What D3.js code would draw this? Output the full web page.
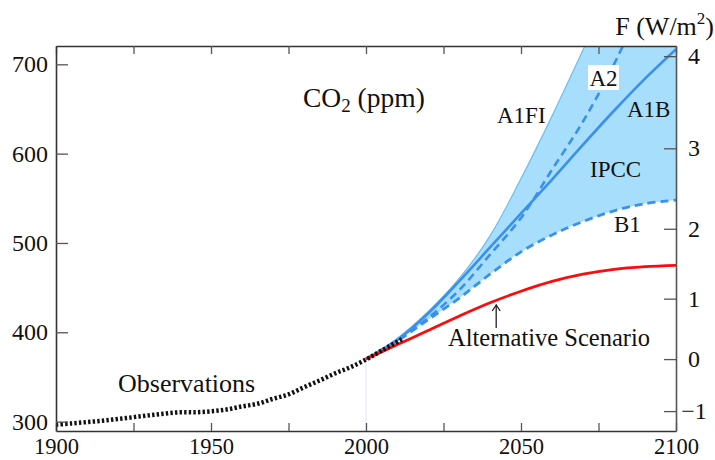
<!DOCTYPE html>
<html>
<head>
<meta charset="utf-8">
<script src="https://cdn.jsdelivr.net/npm/d3@7"></script>
<style>
  html, body { margin: 0; padding: 0; background: #fff; }
  svg { display: block; }
  text { font-family: "Liberation Serif", "Times New Roman", serif; fill: #111; }
</style>
</head>
<body>
<svg id="chart" width="715" height="460"></svg>
<script>
// ---------------- data ----------------
const scenarioYears = [2000, 2010, 2020, 2030, 2040, 2050, 2060, 2070, 2080, 2090, 2100];
const a1fi = [370, 393, 423, 460, 508, 572, 642, 716, 790, 865, 940];
const a2   = [370, 391, 416, 447, 487, 528, 582, 636, 700, 775, 850];
const a1b  = [370, 391, 421, 457, 495, 533, 571, 610, 648, 684, 717];
const b1   = [370, 390, 414, 438, 465, 490, 509, 524, 536, 544, 548];
const alternative = [370, 386, 402, 418, 433, 446, 457, 465, 470.5, 473.5, 475];

const obsYears = [1900, 1905, 1910, 1915, 1920, 1925, 1930, 1935, 1940, 1945, 1950, 1955,
                  1960, 1965, 1970, 1975, 1980, 1985, 1990, 1995, 2000, 2005, 2012];
const obsPpm   = [296.5, 298, 299.5, 301, 303, 305, 307, 309, 310.5, 310.5, 311.5, 313.5,
                  317, 320, 325.5, 330.5, 338.5, 346, 354, 361, 369.5, 379.5, 393];

const xTickValues = [1900, 1925, 1950, 1975, 2000, 2025, 2050, 2075, 2100];
const xLabelValues = [1900, 1950, 2000, 2050, 2100];
const yTickValues = [300, 400, 500, 600, 700];
const fTickValues = [-1, 0, 1, 2, 3, 4];

// forcing relation F = k [g(c) - g(c0)], g(c) = ln(c + 0.0005 c^2)
const forcingK = 5.1, forcingC0 = 370;

// ---------------- layout ----------------
const svg = d3.select("#chart");
const L = 56, R = 676, T = 46, B = 431;
const x = d3.scaleLinear().domain([1900, 2100]).range([L, R]);
const y = d3.scaleLinear().domain([289.5, 720.5]).range([B, T]);

const g = c => Math.log(c + 0.0005 * c * c);
const fToPpm = F => {
  const X = Math.exp(F / forcingK + g(forcingC0));
  return (-1 + Math.sqrt(1 + 4 * 0.0005 * X)) / (2 * 0.0005);
};

svg.append("defs").append("clipPath").attr("id", "plotClip")
  .append("rect").attr("x", L).attr("y", T).attr("width", R - L).attr("height", B - T);

const plot = svg.append("g").attr("clip-path", "url(#plotClip)");

const sc = scenarioYears.map((yr, i) => ({yr, a1fi: a1fi[i], a2: a2[i], a1b: a1b[i], b1: b1[i], alt: alternative[i]}));
const curve = d3.curveCatmullRom.alpha(0.5);

// faint vertical marker at 2000
plot.append("line")
  .attr("x1", x(2000)).attr("x2", x(2000))
  .attr("y1", y(370)).attr("y2", B)
  .attr("stroke", "#dfe8f7").attr("stroke-width", 1);

// IPCC band
plot.append("path").datum(sc)
  .attr("d", d3.area().curve(curve).x(d => x(d.yr)).y0(d => y(d.b1)).y1(d => y(d.a1fi)))
  .attr("fill", "#a6defb");

const line = key => d3.line().curve(curve).x(d => x(d.yr)).y(d => y(d[key]));

plot.append("path").datum(sc).attr("d", line("a1fi"))
  .attr("fill", "none").attr("stroke", "#6cbff0").attr("stroke-width", 1.2);
plot.append("path").datum(sc).attr("d", line("b1"))
  .attr("fill", "none").attr("stroke", "#3a90ea").attr("stroke-width", 2.8)
  .attr("stroke-dasharray", "8,5");
plot.append("path").datum(sc).attr("d", line("a2"))
  .attr("fill", "none").attr("stroke", "#3a90ea").attr("stroke-width", 2.6)
  .attr("stroke-dasharray", "8,5");
plot.append("path").datum(sc).attr("d", line("a1b"))
  .attr("fill", "none").attr("stroke", "#3a90ea").attr("stroke-width", 2.6);
plot.append("path").datum(sc).attr("d", line("alt"))
  .attr("fill", "none").attr("stroke", "#ff0a0a").attr("stroke-width", 2.8);

// observations
const obs = obsYears.map((yr, i) => ({yr, v: obsPpm[i]}));
plot.append("path").datum(obs)
  .attr("d", d3.line().curve(curve).x(d => x(d.yr)).y(d => y(d.v)))
  .attr("fill", "none").attr("stroke", "#111").attr("stroke-width", 4.5)
  .attr("stroke-dasharray", "2.4,2.2");

// ---------------- axes ----------------
const axisColor = "#333";
const styleAxis = (sel, size) => {
  sel.select(".domain").attr("stroke", axisColor).attr("stroke-width", 1.6);
  sel.selectAll(".tick line").attr("stroke", "#555").attr("stroke-width", 1.3);
  sel.selectAll(".tick text").style("font-family", '"Liberation Serif", "Times New Roman", serif')
     .style("font-size", (size || 24) + "px").attr("fill", "#111");
};

svg.append("g").attr("transform", `translate(0,${B})`)
  .call(d3.axisBottom(x).tickValues(xTickValues).tickSize(-8).tickSizeOuter(0).tickPadding(7)
        .tickFormat(d => xLabelValues.includes(d) ? d3.format("d")(d) : ""))
  .call(s => styleAxis(s, 22.5));

svg.append("g").attr("transform", `translate(0,${T})`)
  .call(d3.axisTop(x).tickValues(xTickValues).tickSize(-8).tickSizeOuter(0).tickFormat(""))
  .call(s => styleAxis(s));

svg.append("g").attr("transform", `translate(${L},0)`)
  .call(d3.axisLeft(y).tickValues(yTickValues).tickSize(-12).tickSizeOuter(0).tickPadding(8))
  .call(s => styleAxis(s, 24));

const fLabel = new Map(fTickValues.map(F => [fToPpm(F), F]));
const rightAxis = svg.append("g").attr("transform", `translate(${R},0)`)
  .call(d3.axisRight(y).tickValues([...fLabel.keys()]).tickSize(-12).tickSizeOuter(0)
        .tickFormat(v => d3.format("d")(fLabel.get(v)).replace("-", "\u2212")))
  .call(s => styleAxis(s, 24));
rightAxis.select(".domain").attr("stroke", "#555");
rightAxis.selectAll(".tick text").attr("x", 18).attr("text-anchor", "middle");

// ---------------- labels ----------------
const co2 = svg.append("text").attr("x", 303).attr("y", 107).style("font-size", "27.5px");
co2.append("tspan").text("CO");
co2.append("tspan").attr("dy", 5).style("font-size", "19px").text("2");
co2.append("tspan").attr("dy", -5).text(" (ppm)");

const fl = svg.append("text").attr("x", 714).attr("y", 35).attr("text-anchor", "end").style("font-size", "26px");
fl.append("tspan").text("F (W/m");
fl.append("tspan").attr("dy", -11).style("font-size", "17px").text("2");
fl.append("tspan").attr("dy", 11).text(")");

svg.append("text").attr("x", 497).attr("y", 123).style("font-size", "23px").text("A1FI");
svg.append("rect").attr("x", 588).attr("y", 65).attr("width", 31).attr("height", 25).attr("fill", "#fff");
svg.append("text").attr("x", 603.5).attr("y", 86).attr("text-anchor", "middle").style("font-size", "23px").text("A2");
svg.append("text").attr("x", 627).attr("y", 117).style("font-size", "23px").text("A1B");
svg.append("text").attr("x", 590).attr("y", 177).style("font-size", "23px").text("IPCC");
svg.append("text").attr("x", 614).attr("y", 232).style("font-size", "23px").text("B1");

svg.append("text").attr("x", 118).attr("y", 392).style("font-size", "26px").text("Observations");
svg.append("text").attr("x", 448).attr("y", 346).style("font-size", "24.5px").text("Alternative Scenario");

// arrow pointing to the alternative scenario curve
const ax = x(2042);
svg.append("line").attr("x1", ax).attr("x2", ax).attr("y1", 328).attr("y2", 306)
  .attr("stroke", "#222").attr("stroke-width", 1.3);
svg.append("path").attr("d", `M${ax - 4},${311} L${ax},${305} L${ax + 4},${311}`)
  .attr("fill", "none").attr("stroke", "#222").attr("stroke-width", 1.3);
</script>
</body>
</html>
